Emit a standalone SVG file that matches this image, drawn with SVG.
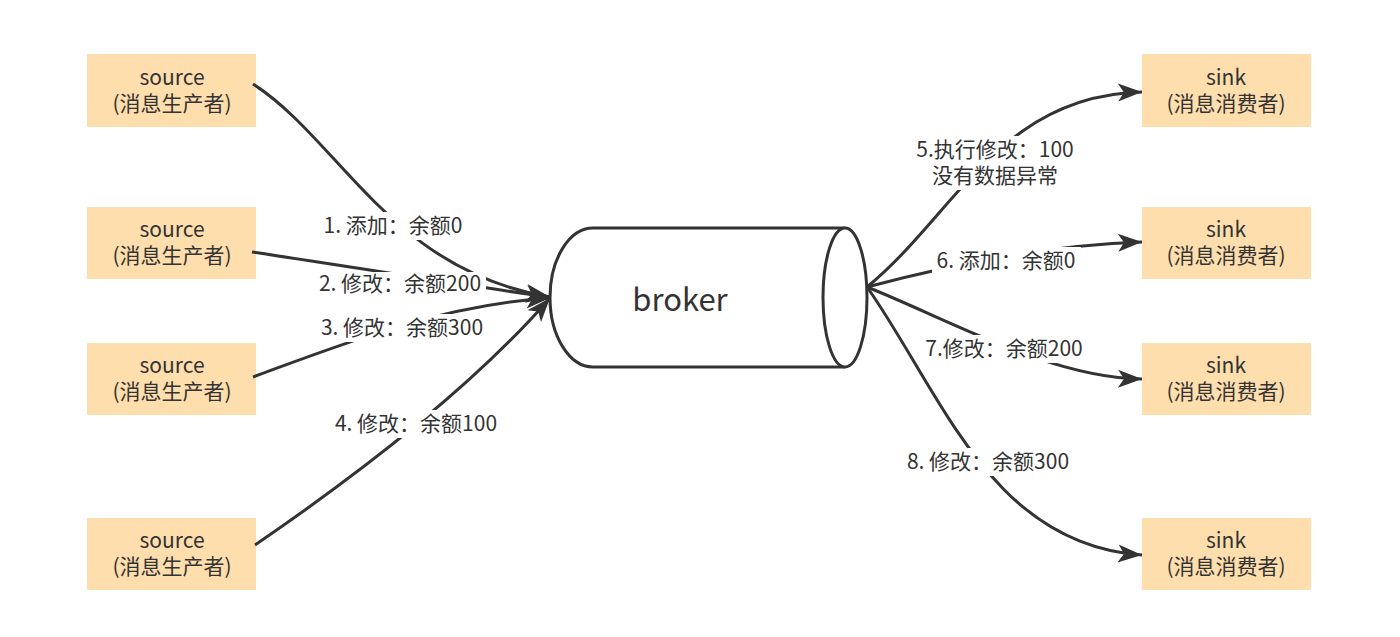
<svg xmlns="http://www.w3.org/2000/svg" width="1400" height="637" viewBox="0 0 1400 637">
<style>
.box{fill:#ffdead;stroke:none}
.t{font-family:"Noto Sans CJK SC","Noto Sans",sans-serif;font-size:21px;fill:#333;text-anchor:middle}
.lbl{font-family:"Noto Sans CJK SC","Noto Sans",sans-serif;font-size:21px;fill:#333;text-anchor:middle}
.bg{fill:#fff}
.edge{fill:none;stroke:#333;stroke-width:3;marker-end:url(#arr)}
.cyl{fill:#fff;stroke:#333;stroke-width:3}
</style>
<defs>
<marker id="arr" markerUnits="userSpaceOnUse" viewBox="-26 -11 28 22" refX="0" refY="0" markerWidth="28" markerHeight="22" orient="auto">
<path d="M0,0 L-24,-9 L-18,0 L-24,9 Z" fill="#333"/>
</marker>
</defs>
<rect width="1400" height="637" fill="#fff"/>
<g id="broker">
<path class="cyl" d="M845,228 L593,228 A43,69.5 0 0 0 593,367 L845,367"/>
<ellipse class="cyl" cx="845" cy="297.5" rx="22" ry="69.5"/>
<text class="t" x="680" y="311" style="font-size:31px">broker</text>
</g>
<g id="source1"><rect class="box" x="87" y="54" width="169" height="73"/><text class="t" x="172" y="85">source</text><text class="t" x="172" y="111">(消息生产者)</text></g>
<g id="source2"><rect class="box" x="87" y="207" width="169" height="72"/><text class="t" x="172" y="237">source</text><text class="t" x="172" y="263">(消息生产者)</text></g>
<g id="source3"><rect class="box" x="87" y="343" width="169" height="72"/><text class="t" x="172" y="373">source</text><text class="t" x="172" y="399">(消息生产者)</text></g>
<g id="source4"><rect class="box" x="87" y="518" width="169" height="72"/><text class="t" x="172" y="548">source</text><text class="t" x="172" y="574">(消息生产者)</text></g>
<g id="sink1"><rect class="box" x="1142" y="54" width="169" height="73"/><text class="t" x="1226" y="85">sink</text><text class="t" x="1226" y="111">(消息消费者)</text></g>
<g id="sink2"><rect class="box" x="1142" y="207" width="169" height="72"/><text class="t" x="1226" y="237">sink</text><text class="t" x="1226" y="263">(消息消费者)</text></g>
<g id="sink3"><rect class="box" x="1142" y="343" width="169" height="72"/><text class="t" x="1226" y="373">sink</text><text class="t" x="1226" y="399">(消息消费者)</text></g>
<g id="sink4"><rect class="box" x="1142" y="518" width="169" height="72"/><text class="t" x="1226" y="548">sink</text><text class="t" x="1226" y="574">(消息消费者)</text></g>
<g id="connectors">
<path class="edge" d="M253,84 C340,140 390,270 550,297"/>
<path class="edge" d="M252,252 C340,265 460,285 550,297"/>
<path class="edge" d="M253,377 C340,345 440,305 550,298"/>
<path class="edge" d="M255,545 C350,480 470,390 550,298"/>
<path class="edge" d="M867,287 C955,215 1000,95 1142,92"/>
<path class="edge" d="M867,287 C950,265 1050,245 1142,242"/>
<path class="edge" d="M867,287 C950,320 1050,378 1142,379"/>
<path class="edge" d="M867,287 C940,390 990,545 1142,555"/>
<rect class="bg" x="319" y="212" width="148" height="28"/>
<text class="lbl" x="393" y="233">1. 添加：余额0</text>
<rect class="bg" x="314" y="272" width="172" height="24"/>
<text class="lbl" x="400" y="291">2. 修改：余额200</text>
<rect class="bg" x="316" y="314" width="172" height="28"/>
<text class="lbl" x="402" y="335">3. 修改：余额300</text>
<rect class="bg" x="329" y="410" width="174" height="28"/>
<text class="lbl" x="416" y="431">4. 修改：余额100</text>
<rect class="bg" x="911" y="136" width="168" height="54"/>
<text class="lbl" x="995" y="157">5.执行修改：100</text>
<text class="lbl" x="995" y="183">没有数据异常</text>
<rect class="bg" x="932" y="247" width="149" height="28"/>
<text class="lbl" x="1006" y="268">6. 添加：余额0</text>
<rect class="bg" x="919" y="335" width="169" height="28"/>
<text class="lbl" x="1004" y="356">7.修改：余额200</text>
<rect class="bg" x="902" y="448" width="172" height="28"/>
<text class="lbl" x="988" y="469">8. 修改：余额300</text>
</g>
</svg>
